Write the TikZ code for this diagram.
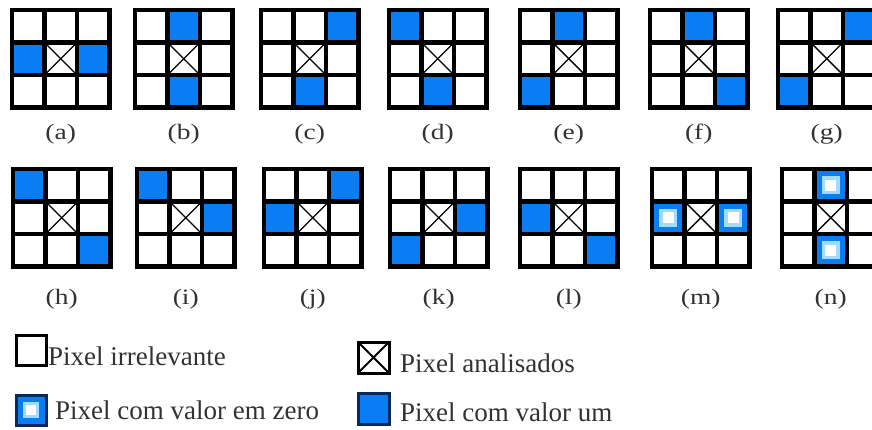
\documentclass[tikz,border=0pt]{standalone}
\usepackage{fontspec}
\setmainfont{Liberation Serif}
\definecolor{pxblue}{RGB}{10,125,245}
\definecolor{pxglow}{RGB}{160,220,255}
\definecolor{pxnavy}{RGB}{10,40,90}
\definecolor{txtgray}{RGB}{50,50,50}
\newcommand{\widelab}[1]{\scalebox{1.25}[1]{#1}}
\tikzset{
  gridline/.style={line width=4.5pt, line cap=rect},
  crossline/.style={line width=1.4pt},
  sublabel/.style={font=\fontsize{22}{26}\selectfont, text=txtgray, inner sep=0pt},
  legtext/.style={font=\fontsize{27}{32}\selectfont, text=txtgray, inner sep=0pt, anchor=base west},
  legbox/.style={line width=3pt},
}
\begin{document}
\begin{tikzpicture}[x=1pt,y=-1pt]
\useasboundingbox (0,0) rectangle (872,430);
\def\cs{32.5}
\def\gs{97.5}
% blue cells (value one)
\foreach \gx/\gy/\ones in {
  12/10/{1/0,1/2}, 135/10/{0/1,2/1}, 261/10/{0/2,2/1}, 389/10/{0/0,2/1},
  520/10/{0/1,2/0}, 650/10/{0/1,2/2}, 778/10/{0/2,2/0},
  13/169/{0/0,2/2}, 137/169/{0/0,1/2}, 264/169/{0/2,1/0}, 390/169/{1/2,2/0},
  520/169/{1/0,2/2}}
{
  \foreach \r/\c in \ones {
    \fill[pxblue] (\gx+\c*\cs,\gy+\r*\cs) rectangle ++(\cs,\cs);
  }
}
% zero-valued cells
\foreach \gx/\gy/\zeros in {652/169/{1/0,1/2}, 782/169/{0/1,2/1}}
{
  \foreach \r/\c in \zeros {
    \fill[pxblue] (\gx+\c*\cs,\gy+\r*\cs) rectangle ++(\cs,\cs);
    \fill[pxglow] (\gx+\c*\cs+\cs/2-9,\gy+\r*\cs+\cs/2-9) rectangle ++(18,18);
    \fill[white] (\gx+\c*\cs+\cs/2-5.5,\gy+\r*\cs+\cs/2-5.5) rectangle ++(11,11);
  }
}
% grids, crosses and labels
\foreach \gx/\gy/\lab/\ly in {
  12/10/a/134, 135/10/b/134, 261/10/c/134, 389/10/d/134,
  520/10/e/134, 650/10/f/134, 778/10/g/134,
  13/169/h/299, 137/169/i/299, 264/169/j/299, 390/169/k/299,
  520/169/l/299, 652/169/m/299, 782/169/n/299}
{
  \draw[crossline] (\gx+\cs+2.25,\gy+\cs+2.25) -- (\gx+2*\cs-2.25,\gy+2*\cs-2.25);
  \draw[crossline] (\gx+2*\cs-2.25,\gy+\cs+2.25) -- (\gx+\cs+2.25,\gy+2*\cs-2.25);
  \draw[gridline] (\gx,\gy) rectangle ++(\gs,\gs);
  \foreach \k in {1,2} {
    \draw[gridline] (\gx+\k*\cs,\gy) -- ++(0,\gs);
    \draw[gridline] (\gx,\gy+\k*\cs) -- ++(\gs,0);
  }
  \node[sublabel] (lab-\lab) at (\gx+\gs/2,\ly) {\widelab{(\lab)}};
}
% legend
\draw[legbox] (16,335) rectangle (46,365);
\node[legtext] (leg-irr) at (48,365) {Pixel irrelevante};

\draw[legbox, draw=pxnavy, fill=pxblue] (16,395) rectangle (46,425);
\fill[pxglow] (31-8,410-8) rectangle ++(16,16);
\fill[white] (31-5,410-5) rectangle ++(10,10);
\node[legtext] (leg-zero) at (55,419) {Pixel com valor em zero};

\draw[legbox] (358,342) rectangle (389,373);
\draw[line width=2pt] (358,342) -- (389,373) (389,342) -- (358,373);
\node[legtext] (leg-ana) at (400,372) {Pixel analisados};

\draw[legbox, draw=pxnavy, fill=pxblue] (358,393) rectangle (389,424);
\node[legtext] (leg-one) at (400,421) {Pixel com valor um};
\end{tikzpicture}
\end{document}
